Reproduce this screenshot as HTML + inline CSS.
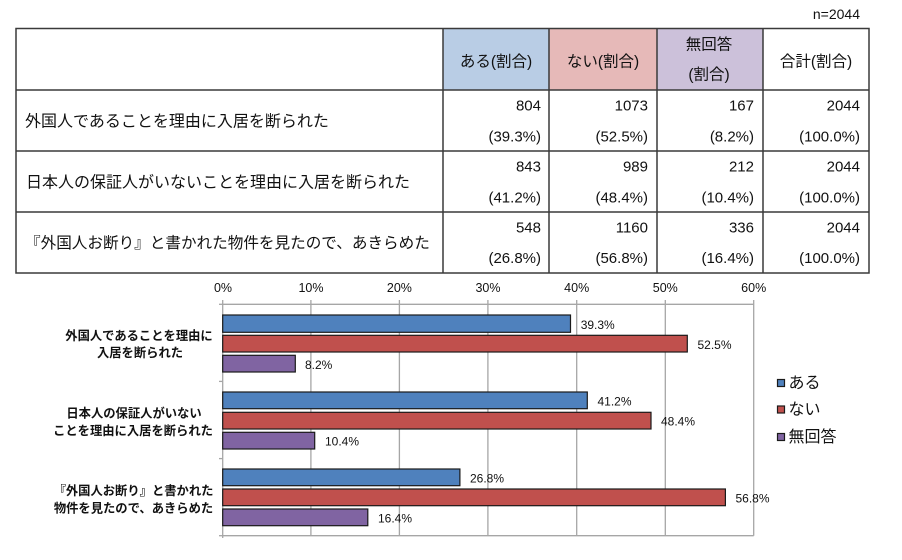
<!DOCTYPE html>
<html><head><meta charset="utf-8"><style>
html,body{margin:0;padding:0;background:#fff;}
svg{display:block;font-family:"Liberation Sans","Noto Sans CJK JP",sans-serif;}
</style></head><body>
<svg width="902" height="560" viewBox="0 0 902 560" xmlns="http://www.w3.org/2000/svg">
<rect width="902" height="560" fill="#fff"/>
<text x="860" y="14" font-size="14" text-anchor="end" dominant-baseline="central" fill="#111">n=2044</text>
<!-- header fills -->
<rect x="443" y="28.5" width="106" height="61.5" fill="#b9cde5"/>
<rect x="549" y="28.5" width="108" height="61.5" fill="#e6b9b8"/>
<rect x="657" y="28.5" width="106" height="61.5" fill="#ccc1da"/>
<!-- table grid -->
<g stroke="#3a3a3a" stroke-width="1.5" fill="none">
<rect x="16" y="28.5" width="853" height="244.5"/>
<line x1="16" y1="90" x2="869" y2="90"/>
<line x1="16" y1="151" x2="869" y2="151"/>
<line x1="16" y1="212" x2="869" y2="212"/>
<line x1="443" y1="28.5" x2="443" y2="273"/>
<line x1="549" y1="28.5" x2="549" y2="273"/>
<line x1="657" y1="28.5" x2="657" y2="273"/>
<line x1="763" y1="28.5" x2="763" y2="273"/>
</g>
<g font-size="15" fill="#111" dominant-baseline="central">
<text x="496" y="62" text-anchor="middle" font-size="15.5">ある(割合)</text>
<text x="603" y="62" text-anchor="middle" font-size="15.5">ない(割合)</text>
<text x="709" y="45" text-anchor="middle" font-size="15.5">無回答</text>
<text x="709" y="75" text-anchor="middle" font-size="15.5">(割合)</text>
<text x="816" y="62" text-anchor="middle" font-size="15.5">合計(割合)</text>
<text x="25" y="122" font-size="16">外国人であることを理由に入居を断られた</text>
<text x="26" y="183" font-size="16">日本人の保証人がいないことを理由に入居を断られた</text>
<text x="25" y="243.5" font-size="15.6">『外国人お断り』と書かれた物件を見たので、あきらめた</text>
<g text-anchor="end">
<text x="541" y="106">804</text><text x="541" y="137">(39.3%)</text>
<text x="648" y="106">1073</text><text x="648" y="137">(52.5%)</text>
<text x="754" y="106">167</text><text x="754" y="137">(8.2%)</text>
<text x="860" y="106">2044</text><text x="860" y="137">(100.0%)</text>
<text x="541" y="167">843</text><text x="541" y="198">(41.2%)</text>
<text x="648" y="167">989</text><text x="648" y="198">(48.4%)</text>
<text x="754" y="167">212</text><text x="754" y="198">(10.4%)</text>
<text x="860" y="167">2044</text><text x="860" y="198">(100.0%)</text>
<text x="541" y="228">548</text><text x="541" y="258.5">(26.8%)</text>
<text x="648" y="228">1160</text><text x="648" y="258.5">(56.8%)</text>
<text x="754" y="228">336</text><text x="754" y="258.5">(16.4%)</text>
<text x="860" y="228">2044</text><text x="860" y="258.5">(100.0%)</text>
</g>
</g>
<!-- chart grid -->
<g stroke="#a6a6a6" stroke-width="1.3">
<line x1="222.7" y1="304.3" x2="753.7" y2="304.3"/>
<line x1="222.7" y1="535.7" x2="753.7" y2="535.7"/>
<line x1="310.9" y1="300" x2="310.9" y2="535.7"/>
<line x1="399.4" y1="300" x2="399.4" y2="535.7"/>
<line x1="487.9" y1="300" x2="487.9" y2="535.7"/>
<line x1="576.7" y1="300" x2="576.7" y2="535.7"/>
<line x1="665.3" y1="300" x2="665.3" y2="535.7"/>
<line x1="753.7" y1="300" x2="753.7" y2="535.7"/>
<line x1="222.7" y1="300" x2="222.7" y2="538"/>
<line x1="219" y1="304.3" x2="222.7" y2="304.3"/>
<line x1="219" y1="381.4" x2="222.7" y2="381.4"/>
<line x1="219" y1="458.6" x2="222.7" y2="458.6"/>
<line x1="219" y1="535.7" x2="222.7" y2="535.7"/>
</g>
<g font-size="12.5" fill="#111" text-anchor="middle" dominant-baseline="central">
<text x="223" y="288">0%</text>
<text x="311" y="288">10%</text>
<text x="399.4" y="288">20%</text>
<text x="488" y="288">30%</text>
<text x="576.7" y="288">40%</text>
<text x="665.3" y="288">50%</text>
<text x="753.7" y="288">60%</text>
</g>
<!-- bars -->
<g stroke="#1a1a1a" stroke-width="1.2">
<rect x="222.7" y="315" width="347.8" height="17.3" fill="#4f81bd"/>
<rect x="222.7" y="335.3" width="464.6" height="16.7" fill="#c0504d"/>
<rect x="222.7" y="355.3" width="72.6" height="16.7" fill="#8064a2"/>
<rect x="222.7" y="392" width="364.6" height="16.7" fill="#4f81bd"/>
<rect x="222.7" y="412.3" width="428.3" height="16.7" fill="#c0504d"/>
<rect x="222.7" y="432.3" width="92" height="16.7" fill="#8064a2"/>
<rect x="222.7" y="469" width="237.2" height="16.7" fill="#4f81bd"/>
<rect x="222.7" y="489" width="502.7" height="16.7" fill="#c0504d"/>
<rect x="222.7" y="509" width="145.1" height="16.7" fill="#8064a2"/>
</g>
<g font-size="12" fill="#111" dominant-baseline="central">
<text x="580.7" y="325">39.3%</text>
<text x="697.5" y="345">52.5%</text>
<text x="305" y="365">8.2%</text>
<text x="597.5" y="401.5">41.2%</text>
<text x="661" y="421.5">48.4%</text>
<text x="325" y="441.5">10.4%</text>
<text x="470" y="478.5">26.8%</text>
<text x="735.5" y="498.5">56.8%</text>
<text x="378" y="518.5">16.4%</text>
</g>
<g font-size="12.3" font-weight="bold" fill="#111" text-anchor="middle" dominant-baseline="central">
<text x="139" y="336">外国人であることを理由に</text>
<text x="140" y="353">入居を断られた</text>
<text x="134" y="413.5">日本人の保証人がいない</text>
<text x="133" y="431">ことを理由に入居を断られた</text>
<text x="133.5" y="491">『外国人お断り』と書かれた</text>
<text x="133.5" y="508.5">物件を見たので、あきらめた</text>
</g>
<!-- legend -->
<g stroke="#1a1a1a" stroke-width="1.2">
<rect x="777.5" y="379.5" width="7" height="7" fill="#4f81bd"/>
<rect x="777.5" y="406" width="7" height="7" fill="#c0504d"/>
<rect x="777.5" y="433.5" width="7" height="7" fill="#8064a2"/>
</g>
<g font-size="16" fill="#111" dominant-baseline="central">
<text x="788.5" y="383.5">ある</text>
<text x="788.5" y="410">ない</text>
<text x="788.5" y="437.5">無回答</text>
</g>
</svg>
</body></html>
